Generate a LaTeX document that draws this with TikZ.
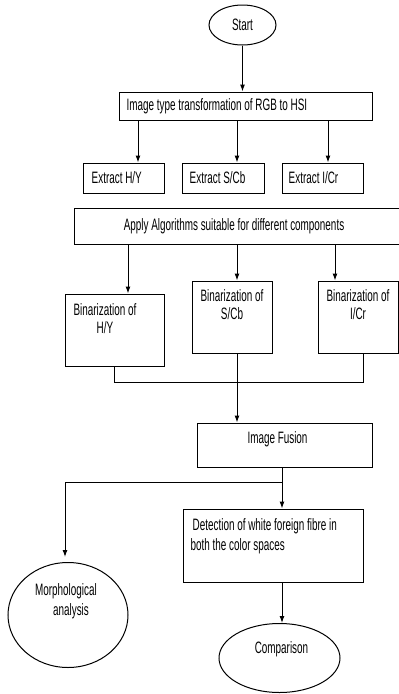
\documentclass[tikz,border=0pt]{standalone}
\usepackage{fontspec}
\setmainfont{Liberation Sans}[FakeStretch=0.6]
\usetikzlibrary{shapes.geometric,arrows.meta}

\begin{document}
\begin{tikzpicture}[x=1pt, y=-1pt,
    font=\fontsize{16.5}{18}\selectfont,
    box/.style={draw, line width=1pt, inner sep=0pt},
    oval/.style={draw, ellipse, line width=1pt, inner sep=0pt},
    txt/.style={inner sep=0pt, align=center},
    arr/.style={line width=1pt, -{Latex[length=7pt,width=5pt]}},
    wire/.style={line width=1pt}]
                \useasboundingbox (0,0) rectangle (399,694);
                \node[oval, minimum width=67pt, minimum height=40pt] (start) at (242.5,25) {Start};
                \node[box, minimum width=253pt, minimum height=28pt,
                      label={[txt, anchor=west, xshift=8pt]west:Image type transformation of RGB to HSI}] (rgb) at (245.5,106) {};
                \node[box, minimum width=81pt, minimum height=30pt,
                      label={[txt, anchor=west, xshift=9pt]west:Extract H/Y}] (exhy) at (123.5,178) {};
                \node[box, minimum width=82pt, minimum height=30pt,
                      label={[txt, anchor=west, xshift=8pt]west:Extract S/Cb}] (exscb) at (223,178) {};
                \node[box, minimum width=81pt, minimum height=30pt,
                      label={[txt, anchor=west, xshift=7pt]west:Extract I/Cr}] (exicr) at (322.5,178) {};
                \node[box, minimum width=328pt, minimum height=36pt,
                      label={[txt, xshift=-4pt]center:Apply Algorithms suitable for different components}] (apply) at (238,226) {};
                \node[box, minimum width=99pt, minimum height=72pt,
                      label={[txt, anchor=north, xshift=-9.5pt, yshift=-10pt]north:Binarization of\\H/Y}] (binhy) at (114.5,330) {};
                \node[box, minimum width=80pt, minimum height=72pt,
                      label={[txt, anchor=north, yshift=-9pt]north:Binarization of\\S/Cb}] (binscb) at (232,317) {};
                \node[box, minimum width=80pt, minimum height=72pt,
                      label={[txt, anchor=north, yshift=-9pt]north:Binarization of\\I/Cr}] (binicr) at (358,317) {};
                \node[box, minimum width=175pt, minimum height=44pt,
                      label={[txt, xshift=-7pt, yshift=6pt]center:Image Fusion}] (fusion) at (284.5,445) {};
                \node[box, minimum width=180pt, minimum height=73pt,
                      label={[txt, align=left, anchor=north west, xshift=8pt, yshift=-10pt]north west:\hspace{2pt}Detection of white foreign fibre in\\[2pt]both the color spaces}] (detect) at (273,545.5) {};
                \node[oval, minimum width=120pt, minimum height=105pt,
                      label={[txt, xshift=-2pt, yshift=14pt]center:Morphological\\[2pt]\hspace{10pt}analysis}] (morph) at (68,615) {};
                \node[oval, minimum width=121pt, minimum height=69pt,
                      label={[txt, xshift=2pt, yshift=9pt]center:Comparison}] (compare) at (279.5,658) {};
                \coordinate (split) at (282,482);
                \coordinate (left) at (65,482);
                \coordinate (bushy) at (114,382);
                \coordinate (busicr) at (363,382);
                \coordinate (fuse) at (237,382);
                \draw[arr] (start.south) -- (rgb.north -| start.south);
                \foreach \n/\x in {exhy/138, exscb/237, exicr/328}{
                  \coordinate (tmp) at (\x,0);
                  \draw[arr] (rgb.south -| tmp) -- (\n.north -| tmp);
                }
                \foreach \n/\x in {binhy/128, binscb/237, binicr/335}{
                  \coordinate (tmp) at (\x,0);
                  \draw[arr] (apply.south -| tmp) -- (\n.north -| tmp);
                }
                \draw[wire] (binhy.south -| bushy) -- (bushy) -- (busicr) -- (binicr.south -| busicr);
                \draw[arr] (binscb.south -| fuse) -- (fusion.north -| fuse);
                \draw[wire] (fusion.south -| split) -- (split);
                \draw[arr] (split) -- (detect.north -| split);
                \draw[arr, shorten >=5pt] (split) -- (left) -- (morph.north -| left);
                \draw[arr] (detect.south -| split) -- (compare.north -| split);
            \end{tikzpicture}
\end{document}
